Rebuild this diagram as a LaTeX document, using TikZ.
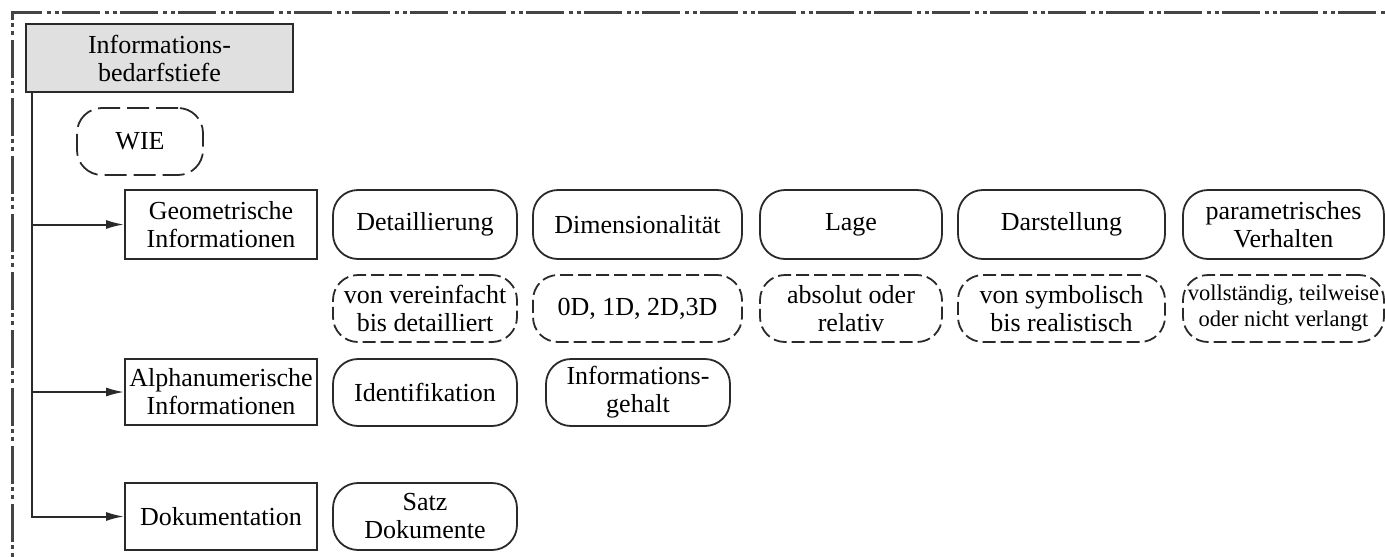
\documentclass[tikz,border=0pt]{standalone}
\usepackage{fontspec}
\setmainfont{Liberation Serif}
\usetikzlibrary{arrows.meta}
\definecolor{ln}{HTML}{2A2A2A}
\definecolor{hdrfill}{HTML}{E0E0E0}
\definecolor{frm}{HTML}{444444}
\tikzset{
  base/.style={draw=ln, line width=1.8pt, inner sep=0pt, align=center, text=black},
  sqbox/.style={base, rectangle},
  solidbox/.style={base, rounded corners=25pt},
  dashbox/.style={base, rounded corners=25pt, dash pattern=on 13pt off 5pt},
  conn/.style={draw=ln, line width=2pt, -{Latex[length=18pt,width=9pt]}},
  frame/.style={draw=frm, line width=3pt, dash pattern=on 38pt off 5pt on 4pt off 4pt on 4pt off 3pt},
}
\begin{document}
\begin{tikzpicture}[x=1pt, y=-1pt, font=\fontsize{26}{28}\selectfont]
\useasboundingbox (0,0) rectangle (1385,557);
\clip (0,0) rectangle (1385,557);
% outer frame (dash-dot-dot)
\draw[frame] (12,600) -- (12,12) -- (1400,12);

% header
\node[sqbox, fill=hdrfill, line width=2.5pt, minimum width=267pt, minimum height=68pt] (hdr) at (159.5,58) {Informations-\\bedarfstiefe};
\node[base, rounded corners=25pt, dash pattern=on 22pt off 7pt, minimum width=126pt, minimum height=67pt] (wie) at (140,141.5) {WIE};

% categories
\node[sqbox, minimum width=192pt, minimum height=69pt] (geo) at (221,224.5) {Geometrische\\Informationen};
\node[sqbox, minimum width=192pt, minimum height=66pt] (alpha) at (221,392) {Alphanumerische\\Informationen};
\node[sqbox, minimum width=192pt, minimum height=67pt] (doc) at (221,516.5) {Dokumentation};

% row 1 solid
\node[solidbox, minimum width=184pt, minimum height=69pt] (det) at (425,224.5) {Detaillierung};
\node[solidbox, minimum width=209pt, minimum height=69pt] (dim) at (637.5,224.5) {Dimensionalität};
\node[solidbox, minimum width=182pt, minimum height=69pt] (lage) at (851,224.5) {Lage};
\node[solidbox, minimum width=207pt, minimum height=69pt] (dar) at (1061.5,224.5) {Darstellung};
\node[solidbox, minimum width=201pt, minimum height=69pt] (par) at (1283.5,224.5) {parametrisches\\Verhalten};

% row 2 dashed
\node[dashbox, minimum width=184pt, minimum height=67pt] (detd) at (425,308.5) {von vereinfacht\\bis detailliert};
\node[dashbox, minimum width=209pt, minimum height=67pt] (dimd) at (637.5,308.5) {0D, 1D, 2D,3D};
\node[dashbox, minimum width=182pt, minimum height=67pt] (laged) at (851,308.5) {absolut oder\\relativ};
\node[dashbox, minimum width=207pt, minimum height=67pt] (dard) at (1061.5,308.5) {von symbolisch\\bis realistisch};
\node[dashbox, minimum width=201pt, minimum height=67pt, font=\fontsize{22.5}{26}\selectfont] (pard) at (1283.5,308.5) {vollständig, teilweise\\oder nicht verlangt};

% row 3
\node[solidbox, minimum width=184pt, minimum height=67pt] (ident) at (425,392.5) {Identifikation};
\node[solidbox, minimum width=184pt, minimum height=67pt] (igeh) at (638,392.5) {Informations-\\gehalt};

% row 4
\node[solidbox, minimum width=184pt, minimum height=67pt] (satz) at (425,516.5) {Satz\\Dokumente};

% connectors
\coordinate (top) at (32,92);
\draw[conn] (top) |- (doc.west);
\draw[conn] (top |- geo.west) -- (geo.west);
\draw[conn] (top |- alpha.west) -- (alpha.west);
\end{tikzpicture}
\end{document}
